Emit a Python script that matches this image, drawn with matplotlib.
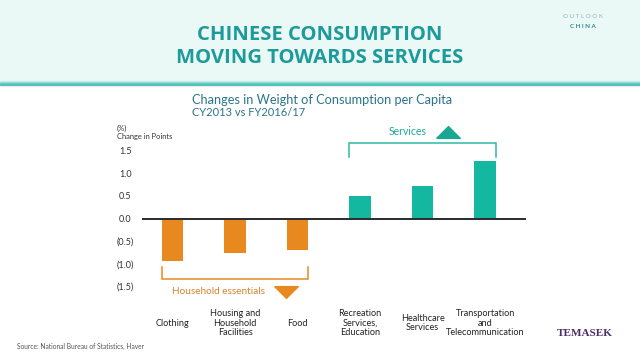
import numpy as np
import matplotlib
matplotlib.use("Agg")
import matplotlib.pyplot as plt
from matplotlib.patches import Rectangle
from matplotlib.path import Path
from matplotlib.transforms import blended_transform_factory

# data (change in weight, % points)
categories = ["Clothing", "Housing and\nHousehold\nFacilities", "Food",
              "Recreation\nServices,\nEducation", "Healthcare\nServices",
              "Transportation\nand\nTelecommunication"]
values = [-0.93, -0.76, -0.70, 0.50, 0.71, 1.27]
groups = ["essentials", "essentials", "essentials", "services", "services", "services"]
yticks = [1.5, 1.0, 0.5, 0.0, -0.5, -1.0, -1.5]
ytick_labels = ["1.5", "1.0", "0.5", "0.0", "(0.5)", "(1.0)", "(1.5)"]

ORANGE = "#e8891f"
TEAL = "#14b8a0"
TEAL_LINE = "#2fb8a8"
TITLE_TEAL = "#1d9a9a"
SUB_BLUE = "#2a7589"

plt.rcParams["font.family"] = ["Lato", "DejaVu Sans"]

fig = plt.figure(figsize=(6.4, 3.6), dpi=100)

# header band
fig.patches.append(Rectangle((0, 1 - 81 / 360), 1, 81 / 360, transform=fig.transFigure,
                             color="#eaf8f6", zorder=0))
band = ["#c9eeea", "#9fe0d9", "#6fcfc6", "#55c3ba"]
for i, c in enumerate(band):
    fig.patches.append(Rectangle((0, 1 - (82 + i) / 360), 1, 1 / 360,
                                 transform=fig.transFigure, color=c, zorder=0))

fig.text(0.5, 1 - 35 / 360, "CHINESE CONSUMPTION", ha="center", va="center",
         fontsize=14.6, fontweight="bold", color=TITLE_TEAL, family=["Open Sans", "DejaVu Sans"])
fig.text(0.5, 1 - 58 / 360, "MOVING TOWARDS SERVICES", ha="center", va="center",
         fontsize=14.6, fontweight="bold", color=TITLE_TEAL, family=["Open Sans", "DejaVu Sans"])
fig.text(583 / 640, 1 - 16 / 360, "O U T L O O K", ha="center", va="center",
         fontsize=4.5, color="#8fb8b8")
fig.text(583 / 640, 1 - 27 / 360, "C H I N A", ha="center", va="center",
         fontsize=4.5, fontweight="bold", color="#2a8a8a")

fig.text(192 / 640, 1 - 100 / 360, "Changes in Weight of Consumption per Capita",
         ha="left", va="center", fontsize=9.2, color=SUB_BLUE)
fig.text(192 / 640, 1 - 112 / 360, "CY2013 vs FY2016/17",
         ha="left", va="center", fontsize=8, color=SUB_BLUE)

fig.text(117 / 640, 1 - 128 / 360, "(%)", ha="left", va="center", fontsize=5.4, color="#333333")
fig.text(117 / 640, 1 - 137 / 360, "Change in Points", ha="left", va="center",
         fontsize=5.4, color="#333333")

# axes placed so that the pixel scale matches the reference
ax = fig.add_axes([142 / 640, 1 - 290.8 / 360, 384 / 640, 144.6 / 360])
ax.set_facecolor("none")
x = np.arange(len(values))
colors = [ORANGE if g == "essentials" else TEAL for g in groups]
bw = 0.345
ax.bar(x, values, width=bw, color=colors, zorder=2)
ax.axhline(0, color="#2b2b2b", lw=1.4, zorder=3)
ax.set_xlim(-0.491, 5.653)
ax.set_ylim(-1.6, 1.6)
for s in ax.spines.values():
    s.set_visible(False)
ax.set_xticks([])
ax.set_yticks(yticks)
ax.set_yticklabels(ytick_labels, fontsize=6.5, color="#333333")
ax.tick_params(axis="y", length=0, pad=12)
for lbl in ax.get_yticklabels():
    lbl.set_ha("center")

# category labels under the chart
bt = blended_transform_factory(ax.transData, fig.transFigure)
for xi, cat in zip(x, categories):
    ax.text(xi, 1 - 323 / 360, cat, transform=bt, ha="center", va="center",
            fontsize=6.6, color="#222222", linespacing=1.05)

# flat triangle marker
tri_up = Path([(-1, -0.5), (1, -0.5), (0, 0.5), (-1, -0.5)])
tri_down = Path([(-1, 0.5), (1, 0.5), (0, -0.5), (-1, 0.5)])

# household essentials bracket
ess = [i for i, g in enumerate(groups) if g == "essentials"]
l, r = ess[0] - bw / 2, ess[-1] + bw / 2
ax.plot([l, l, r, r], [-1.07, -1.345, -1.345, -1.07], color=ORANGE, lw=1.1,
        clip_on=False, solid_joinstyle="miter")
ax.text(0.725, -1.62, "Household essentials", ha="center", va="center",
        fontsize=7.2, color="#d9822b", clip_on=False)
ax.plot([1.82], [-1.63], marker=tri_down, ms=17, color=ORANGE, clip_on=False, lw=0)

# services bracket
srv = [i for i, g in enumerate(groups) if g == "services"]
l, r = srv[0] - bw / 2, srv[-1] + bw / 2
ax.plot([l, l, r, r], [1.37, 1.66, 1.66, 1.37], color=TEAL_LINE, lw=1.1,
        clip_on=False, solid_joinstyle="miter")
ax.text(3.765, 1.92, "Services", ha="center", va="center",
        fontsize=7.6, color="#1aa896", clip_on=False)
ax.plot([4.41], [1.92], marker=tri_up, ms=17, color="#17a893", clip_on=False, lw=0)

fig.text(17 / 640, 1 - 346 / 360, "Source: National Bureau of Statistics, Haver",
         ha="left", va="center", fontsize=4.75, color="#555555")
fig.text(585 / 640, 1 - 334 / 360, "TEMASEK", ha="center", va="center",
         fontsize=8, fontweight="bold", color="#4b2d6b",
         family=["Liberation Serif", "DejaVu Serif"])

fig.savefig("out.png", dpi=100)
